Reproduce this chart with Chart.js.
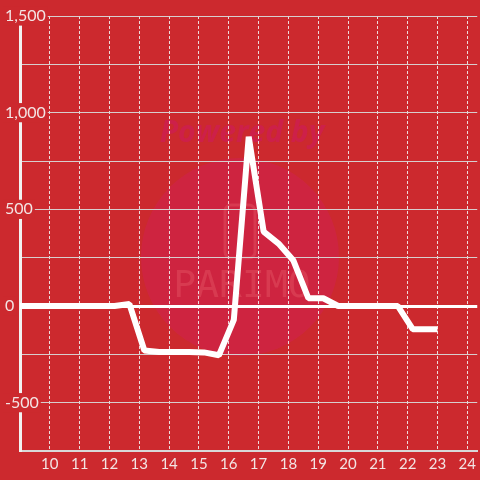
<!DOCTYPE html>
<html>
<head>
<meta charset="utf-8">
<script src="https://cdn.jsdelivr.net/npm/chart.js@4/dist/chart.umd.min.js"></script>
<style>
html,body{margin:0;padding:0;background:#cc292e;}
#wrap{width:480px;height:480px;}
</style>
</head>
<body>
<div id="wrap"><canvas id="c" width="480" height="480"></canvas></div>
<script>
// Hours of day (decimal) and values
const hours  = [8.67, 9.17, 9.67, 10.17, 10.67, 11.17, 11.67, 12.17, 12.67, 13.17, 13.67, 14.17, 14.67, 15.17, 15.67, 16.17, 16.67, 17.17, 17.67, 18.17, 18.67, 19.17, 19.67, 20.17, 20.67, 21.17, 21.67, 22.17, 22.67, 23.0];
const values = [0, 0, 0, 0, 0, 0, 0, 0, 10, -230, -238, -238, -238, -240, -255, -72, 875, 385, 323, 235, 40, 40, 0, 0, 0, 0, 0, -120, -120, -120];
const xTickValues = [10, 11, 12, 13, 14, 15, 16, 17, 18, 19, 20, 21, 22, 23, 24];
const yTickValues = [-750, -500, -250, 0, 250, 500, 750, 1000, 1250, 1500];
const yLabelValues = [-500, 0, 500, 1000, 1500];

const BG = '#cc292e';
const TEXT = '#f3e4e4';

const watermark = {
  id: 'watermark',
  beforeDraw(chart) {
    const ctx = chart.ctx;
    ctx.save();
    ctx.fillStyle = BG;
    ctx.fillRect(0, 0, chart.width, chart.height);
    ctx.beginPath();
    ctx.arc(240, 257, 99, 0, Math.PI * 2);
    ctx.fillStyle = 'rgba(210,30,90,0.42)';
    ctx.fill();
    ctx.font = 'italic bold 30px "Open Sans", sans-serif';
    ctx.fillStyle = 'rgba(205,30,80,0.8)';
    ctx.textAlign = 'center';
    ctx.textBaseline = 'middle';
    ctx.fillText('Powered by', 242, 133);
    ctx.strokeStyle = 'rgba(240,110,120,0.3)';
    ctx.lineWidth = 3;
    ctx.beginPath();
    if (ctx.roundRect) ctx.roundRect(225, 205, 30, 53, 6); else ctx.rect(225, 205, 30, 53);
    ctx.stroke();
    ctx.font = '38px "DejaVu Sans Mono", monospace';
    ctx.fillStyle = 'rgba(240,110,120,0.3)';
    ctx.fillText('PARIMO', 242, 287);
    ctx.restore();
  }
};

new Chart(document.getElementById('c'), {
  type: 'line',
  data: {
    datasets: [{
      data: hours.map((h, i) => ({ x: h, y: values[i] })),
      borderColor: '#ffffff',
      borderWidth: 6,
      borderJoinStyle: 'bevel',
      pointRadius: 0,
      tension: 0,
      fill: false
    }]
  },
  options: {
    responsive: false,
    animation: false,
    plugins: { legend: { display: false }, tooltip: { enabled: false } },
    layout: { padding: { left: 4, right: 0, top: 16, bottom: 3 } },
    scales: {
      x: {
        type: 'linear',
        min: 9,
        max: 24.3333,
        afterBuildTicks: s => { s.ticks = xTickValues.map(v => ({ value: v })); },
        grid: { color: 'rgba(240,240,240,0.9)', lineWidth: 1, drawTicks: false },
        border: { display: true, color: '#d8d8d8', width: 2, dash: [3, 2] },
        ticks: { color: TEXT, font: { family: 'Lato', size: 15 }, padding: 4, maxRotation: 0, autoSkip: false }
      },
      y: {
        type: 'linear',
        min: -750,
        max: 1500,
        afterBuildTicks: s => { s.ticks = yTickValues.map(v => ({ value: v })); },
        afterFit: s => { s.width = 16; },
        grid: {
          drawTicks: false,
          color: c => c.tick && c.tick.value === 0 ? '#ffffff' : 'rgba(215,215,215,0.95)',
          lineWidth: c => c.tick && c.tick.value === 0 ? 3 : 1
        },
        border: { display: true, color: '#f2f2f2', width: 3 },
        ticks: {
          color: TEXT,
          font: { family: 'Lato', size: 16 },
          mirror: true,
          padding: -15,
          callback: v => yLabelValues.includes(v) ? v.toLocaleString('en-US') : '',
          showLabelBackdrop: c => yLabelValues.includes(c.tick.value),
          backdropColor: BG,
          backdropPadding: { left: 2, right: 2, top: 0, bottom: 0 }
        }
      }
    }
  },
  plugins: [watermark]
});
</script>
</body>
</html>
